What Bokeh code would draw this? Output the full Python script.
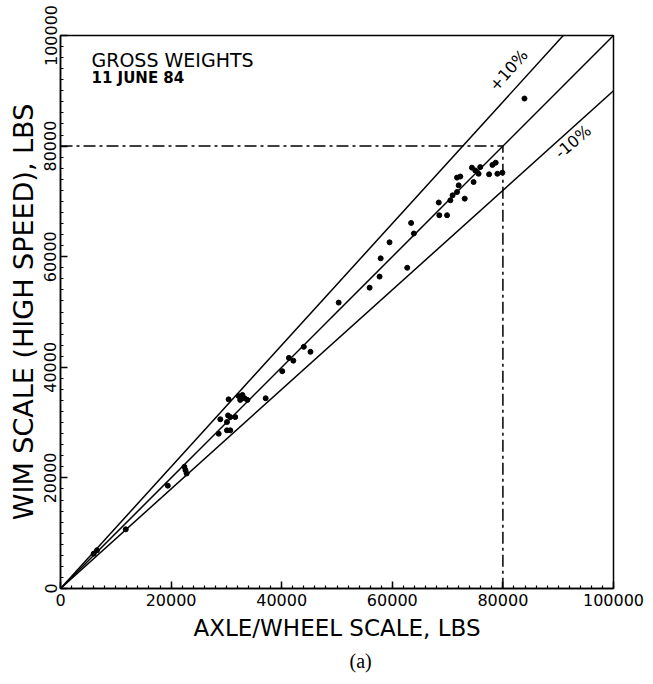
from bokeh.plotting import figure
from bokeh.models import Range1d, SingleIntervalTicker, NumeralTickFormatter, Label, Title
from bokeh.embed import file_html
from bokeh.resources import INLINE
import numpy as np

# --- data (lbs) ---
axle_lbs = [6000, 6600, 11800, 19400, 22400, 22600, 22800,
            28600, 30100, 30700, 28900, 30100, 30300, 30700, 31600,
            30400, 32200, 32900, 33300, 33800, 32500, 37100,
            40100, 41300, 42100, 44000, 45200, 50300,
            55900, 57700, 57900, 59500, 62700, 63400, 63900,
            68400, 68500, 69900, 70500, 70900, 71700, 72000, 71700, 72300,
            73100, 74700, 74400, 75000, 75600, 75900, 77500, 78100, 78700,
            79000, 79900, 83900]
wim_lbs = [6300, 6900, 10700, 18600, 22000, 21400, 20800,
           28000, 28600, 28600, 30600, 30100, 31300, 31000, 31000,
           34200, 34800, 35000, 34400, 34100, 34100, 34400,
           39300, 41700, 41200, 43700, 42800, 51700,
           54400, 56400, 59700, 62600, 58000, 66100, 64200,
           69800, 67500, 67500, 70200, 71100, 71700, 72900, 74300, 74500,
           70500, 73500, 76100, 75600, 75000, 76200, 74900, 76600, 77000,
           75000, 75200, 88600]

# reference lines: ratio of WIM to static weight
line_ratios = [1.0, 1.1, 0.9]
axis_max = 100000
limit_lbs = 80000
tick_interval = 20000

p = figure(frame_width=553, frame_height=553,
           x_range=Range1d(0, axis_max), y_range=Range1d(0, axis_max),
           output_backend="svg", toolbar_location=None,
           min_border_left=60, min_border_right=40, min_border_top=35,
           min_border_bottom=94, background_fill_color="white",
           border_fill_color="white")
p.grid.visible = False
p.outline_line_color = "black"
p.outline_line_width = 1.5

for ax in (p.xaxis[0], p.yaxis[0]):
    ax.ticker = SingleIntervalTicker(interval=tick_interval, num_minor_ticks=10)
    ax.formatter = NumeralTickFormatter(format="0")
    ax.major_tick_in = 7
    ax.major_tick_out = 0
    ax.minor_tick_in = 3
    ax.minor_tick_out = 0
    ax.axis_line_width = 1.5
    ax.major_tick_line_width = 1.5
    ax.minor_tick_line_width = 1.2
    ax.major_label_text_font = "DejaVu Sans"
    ax.major_label_text_font_size = "16px"
    ax.major_label_text_color = "black"
    ax.axis_label_text_font = "DejaVu Sans"
    ax.axis_label_text_font_style = "normal"
    ax.axis_label_text_color = "black"

p.xaxis.axis_label = "AXLE/WHEEL SCALE, LBS"
p.xaxis.axis_label_text_font_size = "23px"
p.xaxis.major_label_standoff = 5
p.xaxis.axis_label_standoff = 6

p.yaxis.axis_label = "WIM SCALE (HIGH SPEED), LBS"
p.yaxis.axis_label_text_font_size = "27px"
p.yaxis.major_label_orientation = "vertical"
p.yaxis.major_label_standoff = 4
p.yaxis.axis_label_standoff = 3

# ratio lines
for r in line_ratios:
    x_end = min(axis_max, axis_max / r)
    xs = np.array([0, x_end])
    p.line(xs, xs * r, line_color="black", line_width=1.5)

# 80000 lb limit (dash-dot)
p.line([0, limit_lbs, limit_lbs], [limit_lbs, limit_lbs, 0],
       line_color="black", line_width=1.5, line_dash="12 4 3 4")

# measurements
p.scatter(axle_lbs, wim_lbs, size=5, color="black", marker="circle")

# annotations
p.add_layout(Label(x=5600, y=93600, text="GROSS WEIGHTS", text_font="DejaVu Sans",
                   text_font_size="19px", text_color="black"))
p.add_layout(Label(x=5600, y=90700, text="11 JUNE 84", text_font="DejaVu Sans",
                   text_font_size="15px", text_font_style="bold", text_color="black"))
p.add_layout(Label(x=81000, y=93700, text="+10%", text_font="DejaVu Sans",
                   text_font_size="16px", angle=0.85, text_align="center",
                   text_baseline="middle", text_color="black"))
p.add_layout(Label(x=92700, y=80800, text="-10%", text_font="DejaVu Sans",
                   text_font_size="16px", angle=0.70, text_align="center",
                   text_baseline="middle", text_color="black"))

p.add_layout(Title(text="(a)", align="left", offset=289, text_font="Liberation Serif",
                   text_font_size="20px", text_font_style="normal",
                   text_color="black", standoff=8), "below")

open("out.html", "w").write(file_html(p, INLINE))
